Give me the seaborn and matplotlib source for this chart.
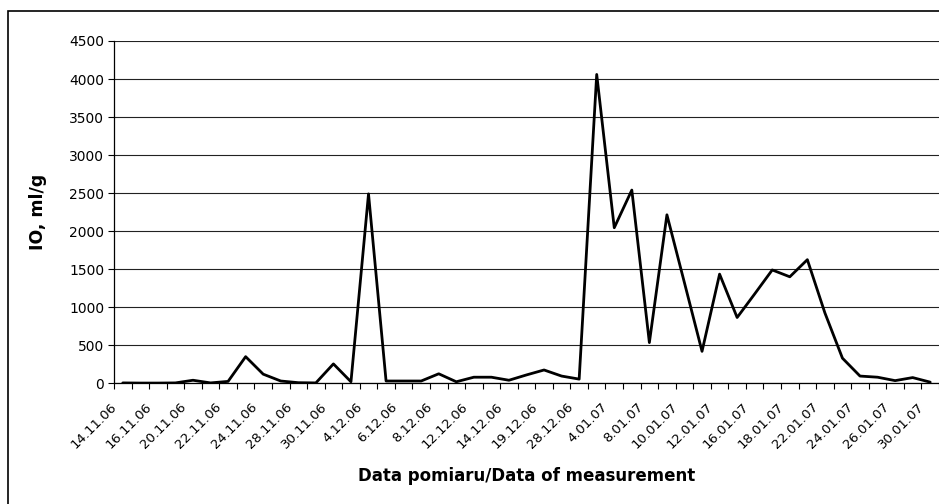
import numpy as np
import pandas as pd
import matplotlib
matplotlib.use("Agg")
import matplotlib.pyplot as plt
import matplotlib.transforms as mtransforms
import seaborn as sns
from matplotlib.patches import Rectangle

# measurement dates (every second one is labelled on the axis)
dates = [
    "14.11.06", "15.11.06", "16.11.06", "17.11.06", "20.11.06", "21.11.06",
    "22.11.06", "23.11.06", "24.11.06", "27.11.06", "28.11.06", "29.11.06",
    "30.11.06", "1.12.06", "4.12.06", "5.12.06", "6.12.06", "7.12.06",
    "8.12.06", "11.12.06", "12.12.06", "13.12.06", "14.12.06", "18.12.06",
    "19.12.06", "20.12.06", "28.12.06", "29.12.06", "4.01.07", "5.01.07",
    "8.01.07", "9.01.07", "10.01.07", "11.01.07", "12.01.07", "15.01.07",
    "16.01.07", "17.01.07", "18.01.07", "19.01.07", "22.01.07", "23.01.07",
    "24.01.07", "25.01.07", "26.01.07", "29.01.07", "30.01.07",
]
io_values = [
    5, 3, 3, 5, 40, 5, 25, 350, 120, 30, 8, 5,
    255, 20, 2490, 30, 30, 30, 125, 20, 80, 80, 40, 110,
    175, 95, 55, 4060, 2045, 2540, 535, 2215, 1320, 420, 1435, 865,
    1175, 1490, 1400, 1625, 925, 330, 95, 80, 35, 75, 15,
]

df = pd.DataFrame({"date": dates, "io": io_values})
df["pos"] = np.arange(len(df))

sns.set_style("white")
plt.rcParams["font.family"] = ["DejaVu Sans"]
plt.rcParams["text.color"] = "black"
plt.rcParams["axes.labelcolor"] = "black"
plt.rcParams["xtick.color"] = "black"
plt.rcParams["ytick.color"] = "black"

fig = plt.figure(figsize=(9.39, 5.04), dpi=100)
ax = fig.add_axes([0.1214, 0.2395, 0.8786, 0.6792])

sns.lineplot(data=df, x="pos", y="io", color="black", linewidth=2.0, ax=ax, zorder=3)

ax.set_xlim(-0.5, len(df) - 0.5)
ax.set_ylim(0, 4500)
ax.set_yticks(np.arange(0, 4501, 500))
ax.yaxis.grid(True, color="#222222", linewidth=0.8)
ax.xaxis.grid(False)

# labels on every second category, tick marks between categories
ax.set_xticks(df["pos"][::2])
ax.set_xticklabels(df["date"][::2], rotation=45, ha="right", rotation_mode="anchor", fontsize=9.5)
ax.set_xticks(np.arange(-0.5, len(df), 1), minor=True)
ax.tick_params(axis="x", which="major", length=0, pad=12)
ax.tick_params(axis="x", which="minor", length=4, width=0.8, direction="out", color="black", bottom=True)
ax.tick_params(axis="y", length=4, width=0.8, direction="out", color="black", left=True, labelsize=10, pad=3)

# nudge the rotated date labels left, as in the original
shift = mtransforms.ScaledTranslation(-13 / 100, 0, fig.dpi_scale_trans)
for lbl in ax.get_xticklabels():
    lbl.set_transform(lbl.get_transform() + shift)

for side in ["top", "right"]:
    ax.spines[side].set_visible(False)
for side in ["left", "bottom"]:
    ax.spines[side].set_color("black")
    ax.spines[side].set_linewidth(0.9)

ax.set_ylabel("IO, ml/g", fontsize=12.5, fontweight="bold")
ax.yaxis.set_label_coords(-67 / 825, 0.5)
ax.set_xlabel("Data pomiaru/Data of measurement", fontsize=12, fontweight="bold")
ax.xaxis.set_label_coords(0.5, -84 / 342)

# outer chart border (right and bottom edges fall outside the image)
fig.patches.append(Rectangle((8 / 939, -0.05), 1.05, 1 - 11 / 504 + 0.05,
                             transform=fig.transFigure, fill=False,
                             edgecolor="black", linewidth=1.2))

fig.savefig("out.png", dpi=100)
